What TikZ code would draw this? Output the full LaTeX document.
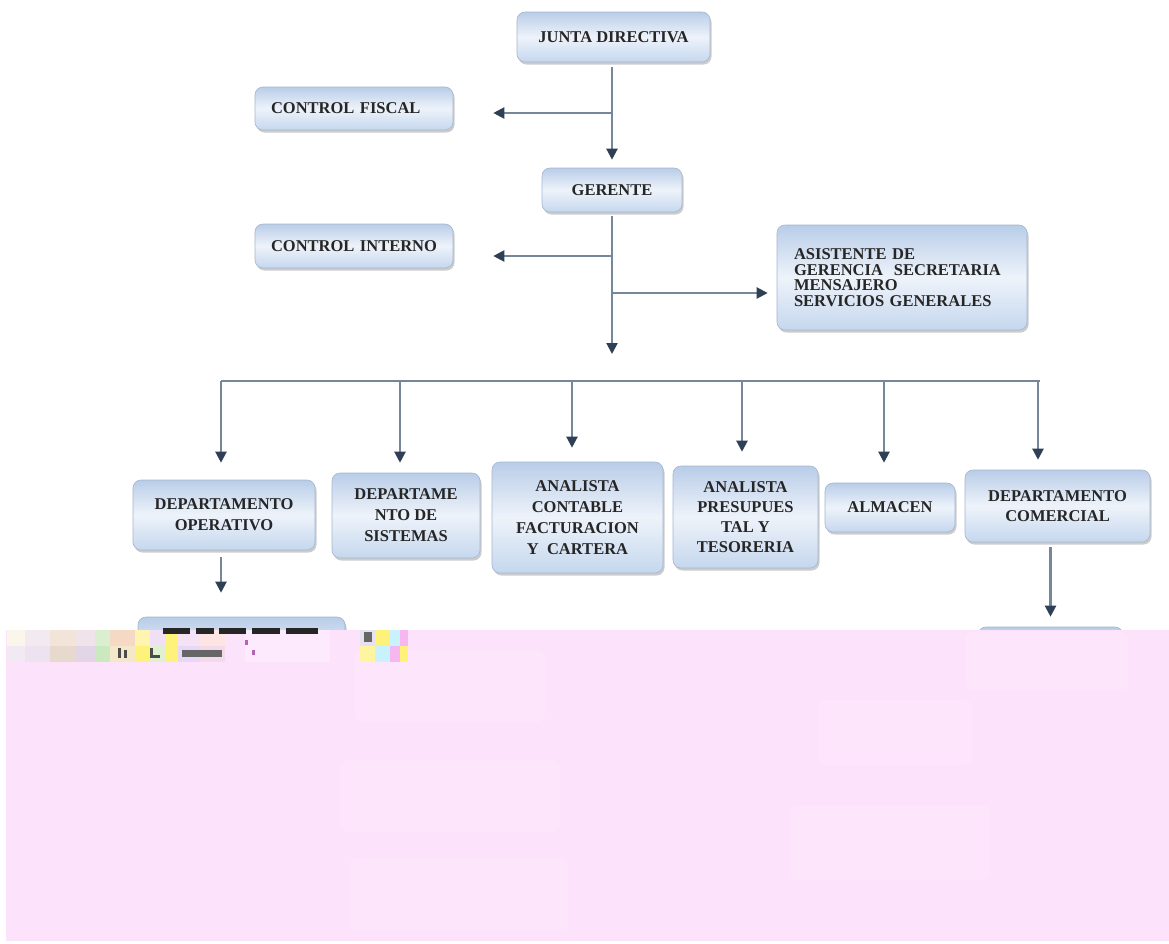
\documentclass[tikz,border=0pt]{standalone}
\usepackage{fontspec}
\setmainfont{Liberation Serif}
\usetikzlibrary{arrows.meta,shadows}
\definecolor{boxtop}{HTML}{B9CDE8}
\definecolor{boxmid}{HTML}{EEF3FA}
\definecolor{boxbot}{HTML}{C5D7EE}
\definecolor{boxedge}{HTML}{A3B6CF}
\definecolor{linec}{HTML}{76879A}
\definecolor{tipc}{HTML}{2F3F55}
\definecolor{txtc}{HTML}{262626}
\definecolor{pinkbg}{HTML}{FDE2FC}
\tikzset{
 orgbox/.style={draw=boxedge, line width=0.6pt, rounded corners=8pt,
   top color=boxtop, bottom color=boxbot, middle color=boxmid,
   drop shadow={shadow xshift=1.5pt, shadow yshift=-2.5pt, fill=black!50, opacity=0.4},
   font=\fontsize{16.5}{21}\selectfont\bfseries, text=txtc, align=center, inner sep=0pt},
 leftbox/.style={orgbox, align=left, inner xsep=16pt},
 conn/.style={draw=linec, line width=2.2pt, -{Triangle[length=11pt,width=11pt,color=tipc]}},
 plainline/.style={draw=linec, line width=2.2pt},
 ghost/.style={fill=white, opacity=0.12, rounded corners=8pt}
}
\begin{document}
\begin{tikzpicture}[x=1pt,y=-1pt]
\useasboundingbox (0,0) rectangle (1169,943);
\fill[white] (0,0) rectangle (1169,943);

% boxes
\node[orgbox, minimum width=193pt, minimum height=50pt] (jd) at (613.5,37) {JUNTA DIRECTIVA};
\node[leftbox, text width=166pt, minimum width=198pt, minimum height=43pt] (cf) at (354,108.5) {CONTROL FISCAL};
\node[orgbox, minimum width=140pt, minimum height=44pt] (ger) at (612,190) {GERENTE};
\node[leftbox, text width=166pt, minimum width=198pt, minimum height=44pt] (ci) at (354,246) {CONTROL INTERNO};
\node[leftbox, inner xsep=17pt, text width=216pt, minimum width=250pt, minimum height=105pt,
      font=\fontsize{16.5}{15.5}\selectfont\bfseries] (asis) at (902,277.5)
      {ASISTENTE DE\\GERENCIA\ \ SECRETARIA\\MENSAJERO\\SERVICIOS GENERALES\\[8pt]};

\node[orgbox, minimum width=182pt, minimum height=70pt] (op) at (224,515) {DEPARTAMENTO\\OPERATIVO};
\node[orgbox, minimum width=148pt, minimum height=85pt] (sis) at (406,515.5) {DEPARTAME\\NTO DE\\SISTEMAS};
\node[orgbox, minimum width=171pt, minimum height=111pt] (ac) at (577.5,517.5) {ANALISTA\\CONTABLE\\FACTURACION\\Y\ \ CARTERA};
\node[orgbox, minimum width=145pt, minimum height=102pt, font=\fontsize{16.5}{20}\selectfont\bfseries] (ap) at (745.5,517) {ANALISTA\\PRESUPUES\\TAL Y\\TESORERIA};
\node[orgbox, minimum width=130pt, minimum height=49pt] (alm) at (890,507.5) {ALMACEN};
\node[orgbox, minimum width=185pt, minimum height=72pt, font=\fontsize{16.5}{20}\selectfont\bfseries] (com) at (1057.5,506) {DEPARTAMENTO\\COMERCIAL};

\node[orgbox, minimum width=207pt, minimum height=86pt] (jo) at (241.5,660) {};
\node[orgbox, minimum width=145pt, minimum height=76pt] (jc) at (1050.5,665) {};

% connectors
\coordinate (j1) at (612,113);
\coordinate (j2) at (612,256);
\coordinate (j3) at (612,293);
\coordinate (g1) at (612,354);
\coordinate (bL) at (221,381);
\coordinate (bR) at (1040,381);
\coordinate (d1) at (221,381);
\coordinate (d2) at (400,381);
\coordinate (d3) at (572,381);
\coordinate (d4) at (742,381);
\coordinate (d5) at (884,381);
\coordinate (d6) at (1038,381);

\draw[conn, shorten <=5pt, shorten >=8pt] (ger.north |- jd.south) -- (ger.north);
\draw[conn, shorten >=40pt] (j1) -- (cf.east |- j1);
\draw[conn, shorten <=4pt] (ger.south) -- (g1);
\draw[conn, shorten >=40pt] (j2) -- (ci.east |- j2);
\draw[conn, shorten >=9pt] (j3) -- (asis.west |- j3);

\draw[plainline] (bL) -- (bR);
\draw[conn, shorten >=17pt] (d1) -- (d1 |- op.north);
\draw[conn, shorten >=10pt] (d2) -- (d2 |- sis.north);
\draw[conn, shorten >=14pt] (d3) -- (d3 |- ac.north);
\draw[conn, shorten >=14pt] (d4) -- (d4 |- ap.north);
\draw[conn, shorten >=20pt] (d5) -- (d5 |- alm.north);
\draw[conn, shorten >=10pt] (d6) -- (d6 |- com.north);

\draw[conn, shorten <=7pt, shorten >=24pt] (op.south -| d1) -- (jo.north -| d1);
\draw[conn, shorten <=5pt, shorten >=10pt] (jc.north |- com.south) -- (jc.north);

% corrupted lower band
\fill[pinkbg] (6,630) rectangle (1169,941);
\fill[ghost] (355,650) rectangle (545,722);
\fill[ghost] (340,760) rectangle (560,832);
\fill[ghost] (350,858) rectangle (568,930);
\fill[ghost] (818,700) rectangle (972,765);
\fill[ghost] (790,805) rectangle (990,880);
\fill[ghost] (965,632) rectangle (1128,690);

% glitch strip
\foreach \a/\b/\c in {7/25/FBF6EC,25/50/F3E9F1,50/75/F2E4D8,75/95/F1E3EA,95/110/D9EFD0,110/135/F5D9C5,135/150/FFF5B0,150/165/F0E0F5,165/178/FFF27A,178/200/F5E2F5,200/225/FFE4E4,225/245/FBE3FB,245/330/FDEAFD,360/375/E8E0F0,375/390/FFF27A,390/400/C9F2FF,400/408/F6B6F0}
  {\definecolor{gc}{HTML}{\c}\fill[gc] (\a,630) rectangle (\b,646);}
\foreach \a/\b/\c in {7/25/F1EAF3,25/50/EDE3F0,50/75/E8D9CF,75/95/E2D6E6,95/110/CBE8C0,110/135/F5E8C8,135/150/FFF27A,150/165/E0F0D0,165/178/FFF27A,178/200/E6D8F6,200/225/F4D9E9,225/245/FBE3FB,245/330/FDEAFD,360/375/FFF5A0,375/390/C9F2FF,390/400/F6B6F0,400/408/FFF27A}
  {\definecolor{gc}{HTML}{\c}\fill[gc] (\a,646) rectangle (\b,662);}
\fill[black!85] (163,628) rectangle (190,634);
\fill[black!85] (196,628) rectangle (214,634);
\fill[black!85] (219,628) rectangle (246,634);
\fill[black!85] (252,628) rectangle (280,634);
\fill[black!85] (286,628) rectangle (318,634);
\fill[black!70] (118,648) rectangle (121,658);
\fill[black!70] (124,650) rectangle (127,658);
\fill[black!70] (150,648) rectangle (153,658);
\fill[black!70] (153,655) rectangle (160,658);
\fill[black!60] (182,650) rectangle (222,657);
\fill[violet!60] (245,640) rectangle (248,645);
\fill[violet!60] (252,650) rectangle (255,655);
\fill[black!60] (364,632) rectangle (372,642);
\end{tikzpicture}
\end{document}
